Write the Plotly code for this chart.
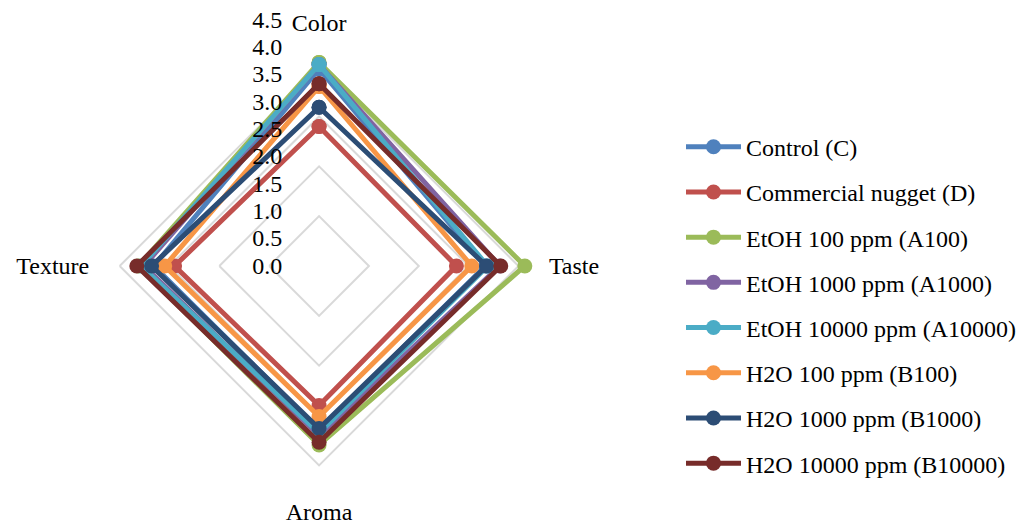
import plotly.graph_objects as go

# Sensory attributes (axes of the radar) and panel mean scores per sample
attributes = ["Color", "Taste", "Aroma", "Texture"]

control = [3.60, 3.04, 3.00, 3.02]
commercial_nugget = [2.55, 2.51, 2.55, 2.64]
etoh_100 = [3.72, 3.76, 3.27, 3.30]
etoh_1000 = [3.68, 3.30, 3.10, 3.20]
etoh_10000 = [3.68, 3.08, 3.05, 3.25]
h2o_100 = [3.28, 2.79, 2.75, 2.82]
h2o_1000 = [2.90, 3.06, 2.97, 3.06]
h2o_10000 = [3.33, 3.32, 3.22, 3.33]

series_names = [
    "Control (C)",
    "Commercial nugget (D)",
    "EtOH 100 ppm (A100)",
    "EtOH 1000 ppm (A1000)",
    "EtOH 10000 ppm (A10000)",
    "H2O 100 ppm (B100)",
    "H2O 1000 ppm (B1000)",
    "H2O 10000 ppm (B10000)",
]
series_values = [control, commercial_nugget, etoh_100, etoh_1000,
                 etoh_10000, h2o_100, h2o_1000, h2o_10000]
series_colors = ["#4F81BD", "#C0504D", "#9BBB59", "#8064A2",
                 "#4BACC6", "#F79646", "#2C4D75", "#772C2A"]

radial_ticks = [0.0, 0.5, 1.0, 1.5, 2.0, 2.5, 3.0, 3.5, 4.0, 4.5]

FONT = "Liberation Serif"
W, H = 1021, 526
CX, CY = 320, 266          # centre of the radar, px from top-left


def domain(radius):
    return dict(
        x=[(CX - radius) / W, (CX + radius) / W],
        y=[(H - CY - radius) / H, (H - CY + radius) / H],
    )


fig = go.Figure()

# empty trace so the background grid subplot is rendered
fig.add_trace(go.Scatterpolar(
    r=[0] * len(attributes), theta=attributes, mode="none",
    showlegend=False, hoverinfo="skip", subplot="polar",
))

for name, vals, col in zip(series_names, series_values, series_colors):
    fig.add_trace(go.Scatterpolar(
        r=vals + vals[:1],
        theta=attributes + attributes[:1],
        mode="lines+markers",
        name=name,
        legendgroup=name,
        line=dict(color=col, width=5),
        marker=dict(color=col, size=15),
        subplot="polar2",
    ))

fig.update_layout(
    width=W, height=H,
    margin=dict(l=0, r=0, t=0, b=0),
    paper_bgcolor="white",
    font=dict(family=FONT, size=24, color="black"),
    # background polar: grey diamond grid and the attribute labels
    polar=dict(
        domain=domain(230),
        bgcolor="white",
        gridshape="linear",
        radialaxis=dict(range=[0, 4.6], dtick=1, showticklabels=False,
                        ticks="", showline=False,
                        gridcolor="#D9D9D9", gridwidth=2),
        angularaxis=dict(type="category", categoryorder="array",
                         categoryarray=attributes, rotation=90,
                         direction="clockwise", showgrid=False,
                         showline=False, ticks="",
                         tickfont=dict(family=FONT, size=24)),
    ),
    # foreground polar: the data and the value scale
    polar2=dict(
        domain=domain(247),
        bgcolor="rgba(0,0,0,0)",
        gridshape="linear",
        radialaxis=dict(range=[0, 4.5], tickvals=radial_ticks,
                        ticktext=[f"{v:.1f}" for v in radial_ticks],
                        angle=90, tickangle=90, side="counterclockwise",
                        showgrid=False, showline=False, ticks="outside",
                        ticklen=28, tickcolor="rgba(0,0,0,0)",
                        tickfont=dict(family=FONT, size=24)),
        angularaxis=dict(type="category", categoryorder="array",
                         categoryarray=attributes, rotation=90,
                         direction="clockwise", showgrid=False,
                         showline=False, ticks="", showticklabels=False),
    ),
    legend=dict(x=0.669, y=0.763, xanchor="left", yanchor="top",
                tracegroupgap=11, itemwidth=55, bgcolor="rgba(0,0,0,0)",
                font=dict(family=FONT, size=24)),
)

fig.write_html("out.html")
